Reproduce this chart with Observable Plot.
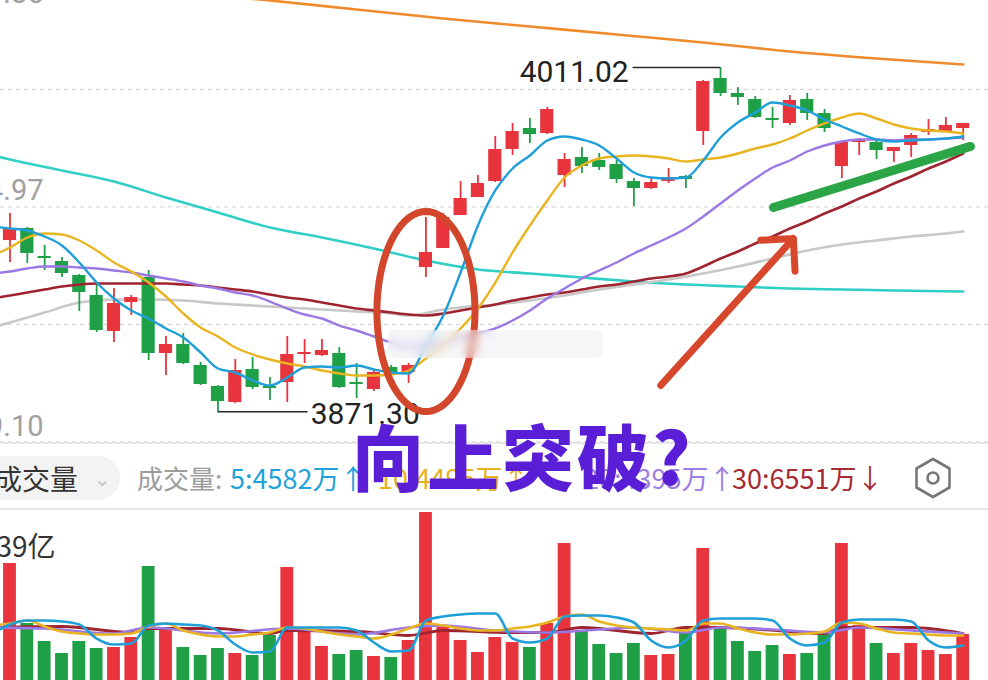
<!DOCTYPE html>
<html><head><meta charset="utf-8">
<script src="https://cdn.jsdelivr.net/npm/d3@7"></script>
<script src="https://cdn.jsdelivr.net/npm/@observablehq/plot@0.6"></script>
<style>
html,body{margin:0;padding:0;background:#fff;}
#wrap{position:relative;width:988px;height:680px;overflow:hidden;background:#fff;font-family:"Noto Sans CJK SC","Noto Sans",sans-serif;}
#price{position:absolute;left:0;top:0;}
#vol{position:absolute;left:0;top:510px;}
.sep{position:absolute;left:0;width:988px;height:2px;background:#e6e6e6;}
.hd{position:absolute;top:458px;font-size:27px;line-height:40px;white-space:nowrap;font-family:"Liberation Sans Narrow","Noto Sans CJK SC",sans-serif;}
#btn{position:absolute;left:-30px;top:456px;width:150px;height:44px;border-radius:22px;background:#f3f3f3;}
#big{position:absolute;left:352px;top:414px;font-size:72px;font-weight:900;line-height:80px;color:#5a1ed6;font-family:"Noto Sans CJK SC",sans-serif;white-space:nowrap;letter-spacing:3px;}
#wm{position:absolute;left:388px;top:330px;width:215px;height:28px;background:rgba(236,236,240,0.45);backdrop-filter:blur(5px);-webkit-backdrop-filter:blur(5px);border-radius:6px;}
</style></head>
<body><div id="wrap">
<div id="price"></div>
<div id="wm"></div>
<div class="sep" style="top:442px"></div>
<div id="btn"></div>
<div class="hd" style="left:-6px;color:#333;font-family:'Noto Sans CJK SC';font-size:28px;">成交量</div>
<div class="hd" style="left:94px;color:#c4c4c4;font-size:20px;">⌄</div>
<div class="hd" style="left:137px;color:#9c9c9c;font-family:'Noto Sans CJK SC';font-size:26px;">成交量:</div>
<div class="hd" id="m5" style="left:230px;color:#1fa2da;"></div>
<div class="hd" id="m10" style="left:378px;color:#e6b21f;"></div>
<div class="hd" id="m20" style="left:584px;color:#9d7fe2;"></div>
<div class="hd" id="m30" style="left:732px;color:#a52a31;"></div>
<svg style="position:absolute;left:910px;top:455px" width="46" height="46" viewBox="0 0 46 46">
 <polygon points="23,4 39.5,13.5 39.5,32.5 23,42 6.5,32.5 6.5,13.5" fill="none" stroke="#777" stroke-width="2.6" stroke-linejoin="round"/>
 <circle cx="23" cy="23" r="5.5" fill="none" stroke="#777" stroke-width="2.6"/>
</svg>
<div class="sep" style="top:508px"></div>
<div id="vol"></div>
<div id="big">向上突破?</div>
</div>
<script>
// ---------- data ----------
const openP  = [3940.82,3945.69,3934.33,3932.30,3926.61,3918.50,3903.89,3915.66,3925.80,3894.96,3898.61,3890.09,3881.57,3875.08,3888.47,3881.57,3883.19,3894.56,3894.15,3894.96,3883.19,3880.35,3889.28,3887.25,3929.86,3937.57,3950.96,3958.27,3964.76,3977.75,3986.27,3984.24,3967.19,3974.50,3973.28,3971.66,3964.76,3961.92,3964.76,3966.79,3985.05,4006.56,4000.47,3998.04,3990.33,3988.30,3998.04,3992.35,3970.85,3980.59,3980.59,3976.93,3979.37,3984.64,3985.05,3986.27];
const highP  = [3951.77,3946.10,3938.79,3933.92,3927.02,3923.37,3921.34,3918.50,3928.64,3901.86,3903.08,3891.31,3881.98,3892.53,3893.34,3885.22,3901.86,3900.64,3900.64,3897.40,3890.90,3888.06,3890.09,3890.90,3950.15,3951.77,3964.76,3967.19,3983.02,3988.30,3990.33,3994.79,3976.12,3978.56,3976.12,3973.28,3965.98,3966.38,3970.04,3967.19,4005.75,4011.02,4002.91,3999.25,3994.79,3999.66,4000.47,3993.98,3980.59,3982.21,3981.40,3978.56,3984.24,3989.92,3990.73,3988.30];
const lowP   = [3931.89,3931.48,3928.64,3925.80,3912.01,3903.48,3899.43,3910.38,3892.12,3886.03,3890.50,3881.98,3871.30,3874.60,3880.35,3875.89,3875.08,3890.90,3893.75,3880.76,3876.70,3879.54,3886.44,3882.79,3925.80,3937.57,3950.96,3958.27,3964.35,3975.31,3980.18,3983.83,3962.33,3968.01,3969.22,3963.95,3954.62,3961.50,3963.95,3961.92,3979.37,3999.25,3995.60,3990.33,3986.27,3987.48,3989.51,3984.64,3965.98,3975.31,3973.69,3972.47,3974.50,3983.43,3984.64,3981.40];
const closeP = [3945.69,3935.54,3933.51,3927.43,3919.72,3904.30,3915.25,3917.69,3894.96,3898.61,3890.90,3882.38,3875.48,3888.06,3881.17,3880.76,3894.56,3895.37,3896.18,3881.17,3882.38,3887.25,3887.25,3890.09,3935.95,3950.15,3957.86,3963.95,3977.75,3985.05,3983.83,3993.98,3973.69,3970.85,3970.44,3965.57,3961.92,3964.35,3966.38,3965.57,4005.34,4000.47,3998.85,3990.73,3989.51,3997.63,3992.35,3986.27,3980.59,3981.80,3977.34,3978.56,3983.43,3985.86,3987.48,3988.30];
// volume, 万
const volume = [9856,4802,3285,2274,3285,2696,2780,3622,9603,4465,2780,2106,2696,2274,2106,3791,9519,4380,2864,2190,2527,2022,1938,3370,14150,4465,3370,2359,3622,3201,2780,4802,11541,4212,3033,2274,3117,2106,2190,3959,11120,4380,3285,2443,2948,2190,2274,3875,11541,4633,3117,2274,3117,2527,2190,3875];

// price moving averages, bar index -1 .. 55
const ma5  = [3946.50,3945.69,3944.88,3942.44,3938.79,3931.89,3923.77,3917.28,3912.41,3909.17,3905.11,3901.46,3895.37,3888.88,3887.25,3884.01,3881.98,3885.22,3889.28,3889.69,3889.28,3890.09,3888.47,3887.25,3886.85,3898.21,3910.38,3927.83,3946.90,3961.11,3970.04,3975.31,3981.40,3983.02,3981.80,3979.37,3974.09,3968.41,3966.38,3965.98,3966.38,3973.28,3982.62,3988.70,3992.76,3996.82,3995.60,3993.57,3989.92,3987.08,3984.24,3981.80,3980.99,3981.40,3981.80,3982.21,3983.02];
const ma10 = [3934.73,3937.98,3942.04,3943.66,3943.25,3940.82,3936.76,3931.89,3928.24,3923.77,3918.09,3911.19,3905.51,3901.86,3897.40,3894.56,3892.53,3890.90,3889.69,3888.06,3886.85,3886.03,3886.03,3886.44,3888.06,3892.93,3898.21,3905.11,3913.22,3923.77,3935.95,3946.90,3957.05,3966.38,3971.25,3974.09,3974.91,3975.31,3974.91,3974.09,3972.88,3973.69,3974.50,3976.12,3978.15,3979.77,3982.21,3985.46,3988.30,3990.73,3992.35,3990.33,3987.89,3986.27,3985.46,3985.05,3984.24];
const ma20 = [3927.43,3928.24,3929.46,3930.27,3930.27,3929.86,3929.46,3928.64,3927.83,3926.61,3925.40,3924.18,3922.56,3921.34,3919.72,3918.50,3916.06,3913.22,3910.79,3909.17,3906.32,3904.30,3901.86,3899.43,3897.80,3897.80,3899.43,3901.46,3903.08,3905.11,3908.35,3912.41,3917.28,3921.34,3925.40,3928.64,3931.89,3935.54,3938.79,3942.04,3945.69,3950.56,3955.83,3961.11,3965.98,3970.44,3973.28,3976.93,3979.37,3980.99,3981.80,3981.80,3981.40,3981.80,3981.80,3982.21,3982.62];
const ma30 = [3917.28,3918.50,3919.72,3920.93,3922.15,3922.96,3923.37,3923.37,3923.37,3923.37,3923.37,3922.96,3922.56,3921.75,3920.93,3920.12,3918.90,3917.69,3916.88,3915.66,3914.44,3913.22,3912.41,3911.60,3910.79,3910.38,3911.19,3912.41,3913.63,3914.85,3916.47,3917.69,3918.90,3919.72,3920.93,3922.15,3922.96,3924.18,3925.40,3926.21,3927.43,3930.27,3933.51,3936.35,3939.60,3942.44,3945.69,3948.53,3951.77,3954.62,3957.86,3960.70,3963.95,3966.79,3970.04,3972.88,3976.12];
const ma60Idx  = [-1,0,2,4,6,8,10,12,14,16,18,20,22,23,25,26,28,30,32,34,36,38,40,42,44,46,48,50,52,54,55];
const ma60     = [3905.51,3907.54,3911.60,3915.66,3916.88,3916.88,3916.47,3915.25,3914.44,3913.63,3912.82,3912.01,3911.19,3910.38,3912.82,3913.63,3914.85,3916.47,3918.50,3920.93,3922.96,3924.99,3927.43,3930.27,3933.51,3936.76,3939.19,3940.82,3942.44,3943.66,3944.47];
const ma120Idx = [-1,0,3,6,9,12,15,18,21,24,27,30,33,36,39,42,45,48,51,55];
const ma120    = [3975.31,3973.69,3969.22,3964.76,3958.27,3952.18,3946.09,3942.04,3937.57,3932.70,3929.05,3927.43,3925.80,3924.18,3922.96,3922.15,3921.34,3920.93,3920.53,3920.12];
const ma250Idx = [10,15,20,25,30,35,40,45,50,55];
const ma250    = [4041.46,4038.21,4034.56,4030.91,4027.66,4024.41,4021.17,4017.51,4014.67,4012.24];

// volume moving averages (万)
const vma5  = [3959,4717,5054,5054,4970,4717,3538,3033,3117,4633,4802,4717,4633,4212,3033,2359,2443,4465,4465,4465,4465,4212,3201,2443,2527,5054,5391,5560,5644,5644,3538,3201,3538,5391,5476,5476,5307,4886,3370,2780,3370,5054,5223,5223,5223,5054,3538,2948,3201,4886,5139,5139,5139,4970,3370,2780,2948];
const vma10 = [4633,4802,5054,4549,4128,3959,3875,3875,3959,4549,4802,4212,3875,3707,3707,3875,4044,4465,4380,4128,3875,3707,3538,3875,4380,4802,4633,4380,4212,4212,4380,4549,4886,5391,5560,4970,4633,4465,4380,4296,4212,4802,4802,4380,4044,3875,3875,3959,4128,4886,4802,4380,4044,3959,3875,3791,3791];
const vma20Idx = [-1,2,6,8,12,16,20,23,25,28,31,34,36,39,41,44,47,49,52,55];
const vma20    = [4465,4380,3959,4465,3959,4380,3875,4465,4633,4212,4044,4296,4465,4044,4465,4296,4044,4465,4212,3959];
const vma30Idx = [-1,3,7,8,12,15,16,20,23,25,29,31,33,37,39,41,45,47,48,52,55];
const vma30    = [4465,4549,4044,4380,4380,3959,4212,4128,3791,4212,4044,4044,4465,3959,4465,4465,4128,3959,4465,4465,3959];

// axis / header labels
const gridTop = 4049.85, gridBottom = 3859.10;
const axisLabels = ["4049.85","3954.97","3859.10"];
const volTopLabel = "1.39亿";
const headerVals = {m5:"5:4582万↑", m10:"10:4495万↑", m20:"20:4395万↑", m30:"30:6551万↓"};

// annotations (data coordinates: bar index, price)
const hiAnn = {i: 41, value: 4011.02, textI: 35.7};
const loAnn = {i: 12, value: 3871.30, textI: 17.35};
const ellipseAnn = {ci: 24.0, cv: 3912.0, ri: 2.83, rv: 40.6};
const arrowAnn = [{i1: 37.55, v1: 3882.0, i2: 45.2, v2: 3941.6}];
const trendAnn = [{i1: 44.05, v1: 3954.2, i2: 55.42, v2: 3979.0}];

// ---------- drawing ----------
for (const k in headerVals) document.getElementById(k).textContent = headerVals[k];

const RED = "#e8353d", GREEN = "#1fa047";
const C5 = "#1f9fd8", C10 = "#e8b521", C20 = "#9b78e3", C30 = "#9e2430", C60 = "#c8c8c8", C120 = "#2fcfc6", C250 = "#ef8b2c";
const candles = d3.range(openP.length).map(i => ({i, o: openP[i], h: highP[i], l: lowP[i], c: closeP[i], vol: volume[i]}));
const col = d => d.c >= d.o ? RED : GREEN;
const fullIdx = d3.range(-1, 56);
const series = (vals, ix) => vals.map((v, k) => ({i: ix[k], v}));
const xDom = [-0.548, 56.46];
const W = 988;

const grid = d3.range(5).map(k => gridTop - k * (gridTop - gridBottom) / 4);
const labelData = axisLabels.map(s => ({s, v: +s}));

const ell = d3.range(0, 73).map(k => {
  const t = k / 72 * 2 * Math.PI;
  return {i: ellipseAnn.ci + ellipseAnn.ri * Math.cos(t), v: ellipseAnn.cv + ellipseAnn.rv * Math.sin(t)};
});

const numFont = "Liberation Sans Narrow, Roboto, sans-serif";
const maLine = (data, stroke, w = 2.4) => Plot.line(data, {x: "i", y: "v", stroke, strokeWidth: w, curve: "monotone-x", clip: true});

const price = Plot.plot({
  width: W, height: 443, margin: 0,
  x: {domain: xDom, axis: null},
  y: {domain: [3858.44, 4038.21], axis: null},
  style: {background: "transparent"},
  marks: [
    Plot.ruleY(grid, {stroke: "#d6d6d6", strokeDasharray: "4,4", strokeWidth: 1.2}),
    Plot.text(labelData.slice(0,1), {y: "v", text: "s", frameAnchor: "left", dx: 43, dy: 22, textAnchor: "end", fill: "#a0a0a0", fontSize: 29, fontFamily: numFont}),
    Plot.text(labelData.slice(1), {y: "v", text: "s", frameAnchor: "left", dx: 43, dy: -15, textAnchor: "end", fill: "#a0a0a0", fontSize: 29, fontFamily: numFont}),
    maLine(series(ma250, ma250Idx), C250, 2.6),
    maLine(series(ma120, ma120Idx), C120, 2.6),
    maLine(series(ma60, ma60Idx), C60, 2.6),
    Plot.ruleX(candles, {x: "i", y1: "l", y2: "h", stroke: col, strokeWidth: 1.8}),
    Plot.rect(candles, {x1: d => d.i - 0.38, x2: d => d.i + 0.38, y1: "o", y2: "c", fill: col}),
    maLine(series(ma30, fullIdx), C30, 2.6),
    maLine(series(ma20, fullIdx), C20),
    maLine(series(ma10, fullIdx), C10),
    maLine(series(ma5, fullIdx), C5),
    // high / low labels
    Plot.ruleY([hiAnn], {y: "value", x1: d => d.textI + 0.25, x2: "i", stroke: "#2a2a2a", strokeWidth: 1.6}),
    Plot.text([hiAnn], {x: "textI", y: "value", text: d => d.value.toFixed(2), textAnchor: "end", dy: 5, fill: "#222", fontSize: 30, fontFamily: numFont, letterSpacing: 2}),
    Plot.ruleY([loAnn], {y: "value", x1: "i", x2: d => d.textI - 0.15, stroke: "#2a2a2a", strokeWidth: 1.6}),
    Plot.text([loAnn], {x: "textI", y: "value", text: d => d.value.toFixed(2), textAnchor: "start", dy: 3, fill: "#222", fontSize: 30, fontFamily: numFont, letterSpacing: 2}),
    // hand-drawn annotations
    Plot.line(ell, {x: "i", y: "v", stroke: "#d2462c", strokeWidth: 7, curve: "linear-closed"}),
    Plot.arrow(arrowAnn, {x1: "i1", y1: "v1", x2: "i2", y2: "v2", stroke: "#d6472c", strokeWidth: 7, headLength: 7, headAngle: 90}),
    Plot.link(trendAnn, {x1: "i1", y1: "v1", x2: "i2", y2: "v2", stroke: "#2ca546", strokeWidth: 9, strokeLinecap: "round"})
  ]
});
document.getElementById("price").appendChild(price);

const vol = Plot.plot({
  width: W, height: 170, margin: 0,
  x: {domain: xDom, axis: null},
  y: {domain: [0, 13900], range: [170, 5], axis: null},
  style: {background: "transparent"},
  marks: [
    Plot.rect(candles, {x1: d => d.i - 0.37, x2: d => d.i + 0.37, y1: 0, y2: "vol", fill: col}),
    maLine(series(vma30, vma30Idx), C30, 2.8),
    maLine(series(vma20, vma20Idx), C20, 2.6),
    maLine(series(vma10, fullIdx), C10, 2.6),
    maLine(series(vma5, fullIdx), C5, 2.6),
    Plot.text([volTopLabel], {frameAnchor: "top-left", dx: 55, dy: 27, textAnchor: "end", fill: "#333", fontSize: 28, fontFamily: "Liberation Sans Narrow, Noto Sans CJK SC, sans-serif"})
  ]
});
document.getElementById("vol").appendChild(vol);
</script>
</body></html>
